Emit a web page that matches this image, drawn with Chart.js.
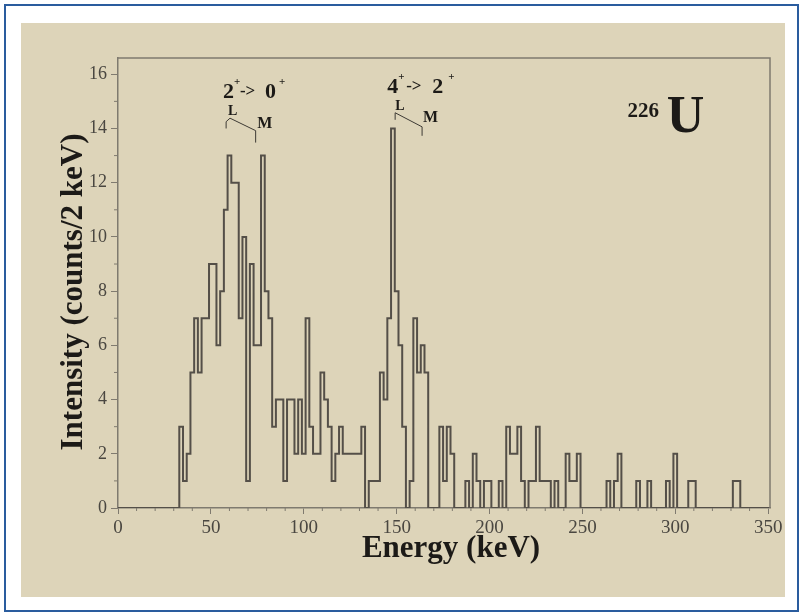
<!DOCTYPE html>
<html>
<head>
<meta charset="utf-8">
<title>226U conversion-electron spectrum</title>
<script src="https://cdn.jsdelivr.net/npm/chart.js@4/dist/chart.umd.min.js"></script>
<style>
  html, body { margin: 0; padding: 0; background: #ffffff; }
  canvas { display: block; }
</style>
</head>
<body>
<canvas id="spectrum" width="803" height="616"></canvas>
<script>
// Electron counts per 2 keV bin; bins are centred on 0, 2, 4, ... keV.
const BIN_WIDTH = 2;
const counts0to98 = [
  0, 0, 0, 0, 0, 0, 0, 0, 0, 0, 0, 0, 0, 0, 0, 0, 0,
  3, 1, 2, 5, 7, 5, 7, 7, 9, 9, 6, 8, 11, 13, 12, 12,
  7, 10, 1, 9, 6, 6, 13, 8, 7, 3, 4, 4, 1, 4, 4, 2, 4
];
const counts100to198 = [
  2, 7, 3, 2, 2, 5, 4, 3, 1, 2, 3, 2, 2, 2, 2, 2, 3, 0, 1, 1,
  1, 5, 4, 7, 14, 8, 6, 3, 0, 1, 7, 5, 6, 5, 0, 0, 0, 3, 1, 3,
  2, 0, 0, 0, 1, 0, 2, 1, 0, 1
];
const counts200to350 = [
  1, 0, 0, 1, 0, 3, 2, 2, 3, 1, 0, 1, 1, 3, 1, 1, 1, 0, 1, 0,
  0, 2, 1, 1, 2, 0, 0, 0, 0, 0, 0, 0, 1, 0, 1, 2, 0, 0, 0, 0,
  1, 0, 0, 1, 0, 0, 0, 0, 1, 0, 2, 0, 0, 0, 1, 1, 0, 0, 0, 0,
  0, 0, 0, 0, 0, 0, 1, 1, 0, 0, 0, 0, 0, 0, 0, 0
];

// Axis tick values
const energyLabels = [0, 50, 100, 150, 200, 250, 300, 350];
const countLabels = [0, 2, 4, 6, 8, 10, 12, 14, 16];

// Transition labels with the L / M conversion-line brackets (keV, counts)
const transitions = [
  { upper: '2', lower: '0', at: [56.5, 15.13], spacing: [0, 11, 17, 42, 56],
    lAt: [59.2, 14.5], mAt: [74.9, 14.02],
    bracket: [[58.2, 14.0], [58.2, 14.25], [60.3, 14.38], [74.1, 13.92], [74.1, 13.48]] },
  { upper: '4', lower: '2', at: [144.9, 15.31], spacing: [0, 11, 19, 45, 61],
    lAt: [149.2, 14.69], mAt: [164.2, 14.24],
    bracket: [[149.2, 14.32], [149.2, 14.58], [163.7, 14.06], [163.7, 13.73]] }
];
const nucleus = { mass: '226', symbol: 'U', massAt: [274.3, 14.43], symbolAt: [295.4, 13.87] };

const allCounts = counts0to98.concat(counts100to198, counts200to350);
// left edge of every bin, then the right edge of the last one
const stepPoints = allCounts.map((c, i) => ({ x: i * BIN_WIDTH - BIN_WIDTH / 2, y: c }));
stepPoints.push({ x: (allCounts.length - 1) * BIN_WIDTH + BIN_WIDTH / 2, y: allCounts[allCounts.length - 1] });

const SERIF = '"Liberation Serif", "Times New Roman", "DejaVu Serif", serif';
const AXIS_COLOR = '#7f7a6f';
const INK = '#1c1a17';

const pagePlugin = {
  id: 'page',
  beforeDraw(chart) {
    const { ctx, width, height } = chart;
    ctx.save();
    ctx.fillStyle = '#ffffff';
    ctx.fillRect(0, 0, width, height);
    ctx.fillStyle = '#ddd4b9';
    ctx.fillRect(21, 23, 764, 574);
    ctx.strokeStyle = '#2a5c9e';
    ctx.lineWidth = 2;
    ctx.strokeRect(5, 5, width - 10, height - 10);
    ctx.restore();
  }
};

const framePlugin = {
  id: 'frame',
  afterDraw(chart) {
    const { ctx, chartArea: a, scales } = chart;
    ctx.save();
    ctx.strokeStyle = AXIS_COLOR;
    ctx.lineWidth = 1.5;
    ctx.beginPath();
    ctx.moveTo(a.left, a.top);
    ctx.lineTo(a.right, a.top);
    ctx.lineTo(a.right, a.bottom);
    ctx.stroke();
    // minor ticks
    ctx.lineWidth = 1;
    ctx.beginPath();
    for (let c = 1; c < 16; c += 2) {
      const y = scales.y.getPixelForValue(c);
      ctx.moveTo(a.left - 4, y);
      ctx.lineTo(a.left, y);
    }
    for (let e = 10; e < 350; e += 10) {
      if (e % 50 === 0) continue;
      const x = scales.x.getPixelForValue(e);
      ctx.moveTo(x, a.bottom);
      ctx.lineTo(x, a.bottom + 3);
    }
    ctx.stroke();

    // axis titles
    ctx.fillStyle = INK;
    ctx.font = 'bold 31px ' + SERIF;
    ctx.textAlign = 'center';
    ctx.textBaseline = 'middle';
    ctx.fillText('Energy (keV)', 451, 549);
    ctx.translate(74, 292);
    ctx.rotate(-Math.PI / 2);
    ctx.fillText('Intensity (counts/2 keV)', 0, 0);
    ctx.restore();
  }
};

const labelPlugin = {
  id: 'labels',
  afterDatasetsDraw(chart) {
    const { ctx, scales: { x, y } } = chart;
    const px = p => [x.getPixelForValue(p[0]), y.getPixelForValue(p[1])];
    ctx.save();
    ctx.fillStyle = INK;
    ctx.textBaseline = 'alphabetic';
    ctx.textAlign = 'left';
    for (const t of transitions) {
      const [cx, cy] = px(t.at);
      const pieces = [
        { s: t.upper, f: 'bold 22px ', dy: 0 },
        { s: '+', f: 'bold 11px ', dy: -13 },
        { s: '->', f: 'bold 17px ', dy: -2 },
        { s: t.lower, f: 'bold 22px ', dy: 0 },
        { s: '+', f: 'bold 11px ', dy: -13 }
      ];
      pieces.forEach((p, i) => {
        ctx.font = p.f + SERIF;
        ctx.fillText(p.s, cx + t.spacing[i], cy + p.dy);
      });
      ctx.font = 'bold 14px ' + SERIF;
      let [lx, ly] = px(t.lAt);
      ctx.fillText('L', lx, ly);
      ctx.font = 'bold 16px ' + SERIF;
      [lx, ly] = px(t.mAt);
      ctx.fillText('M', lx, ly);
      ctx.strokeStyle = '#3d3a34';
      ctx.lineWidth = 1;
      ctx.beginPath();
      t.bracket.forEach((b, i) => {
        const [bx, by] = px(b);
        if (i === 0) ctx.moveTo(bx, by); else ctx.lineTo(bx, by);
      });
      ctx.stroke();
    }
    let [mx, my] = px(nucleus.massAt);
    ctx.font = 'bold 21px ' + SERIF;
    ctx.fillText(nucleus.mass, mx, my);
    [mx, my] = px(nucleus.symbolAt);
    ctx.font = 'bold 52px ' + SERIF;
    ctx.fillText(nucleus.symbol, mx, my);
    ctx.restore();
  }
};

new Chart(document.getElementById('spectrum'), {
  type: 'line',
  data: {
    datasets: [{
      data: stepPoints,
      stepped: 'before',
      borderColor: '#544f48',
      borderWidth: 2,
      pointRadius: 0,
      fill: false,
      tension: 0
    }]
  },
  options: {
    responsive: false,
    animation: false,
    events: [],
    layout: { padding: { left: 0, top: 58, right: 33, bottom: 0 } },
    plugins: { legend: { display: false }, tooltip: { enabled: false } },
    scales: {
      x: {
        type: 'linear',
        min: 0,
        max: 351,
        afterFit(s) { s.height = 108; },
        afterBuildTicks(s) { s.ticks = energyLabels.map(v => ({ value: v })); },
        ticks: {
          autoSkip: false,
          maxRotation: 0,
          padding: 3,
          color: '#4a4741',
          font: { family: SERIF, size: 19 }
        },
        grid: { drawOnChartArea: false, tickLength: 6, tickColor: AXIS_COLOR, tickWidth: 1 },
        border: { color: AXIS_COLOR, width: 1.5 }
      },
      y: {
        type: 'linear',
        min: 0,
        max: 16.6,
        afterFit(s) { s.width = 118; },
        afterBuildTicks(s) { s.ticks = countLabels.map(v => ({ value: v })); },
        ticks: {
          padding: 4,
          color: '#4a4741',
          font: { family: SERIF, size: 18 }
        },
        grid: { drawOnChartArea: false, tickLength: 7, tickColor: AXIS_COLOR, tickWidth: 1 },
        border: { color: AXIS_COLOR, width: 1.5 }
      }
    }
  },
  plugins: [pagePlugin, framePlugin, labelPlugin]
});
</script>
</body>
</html>
